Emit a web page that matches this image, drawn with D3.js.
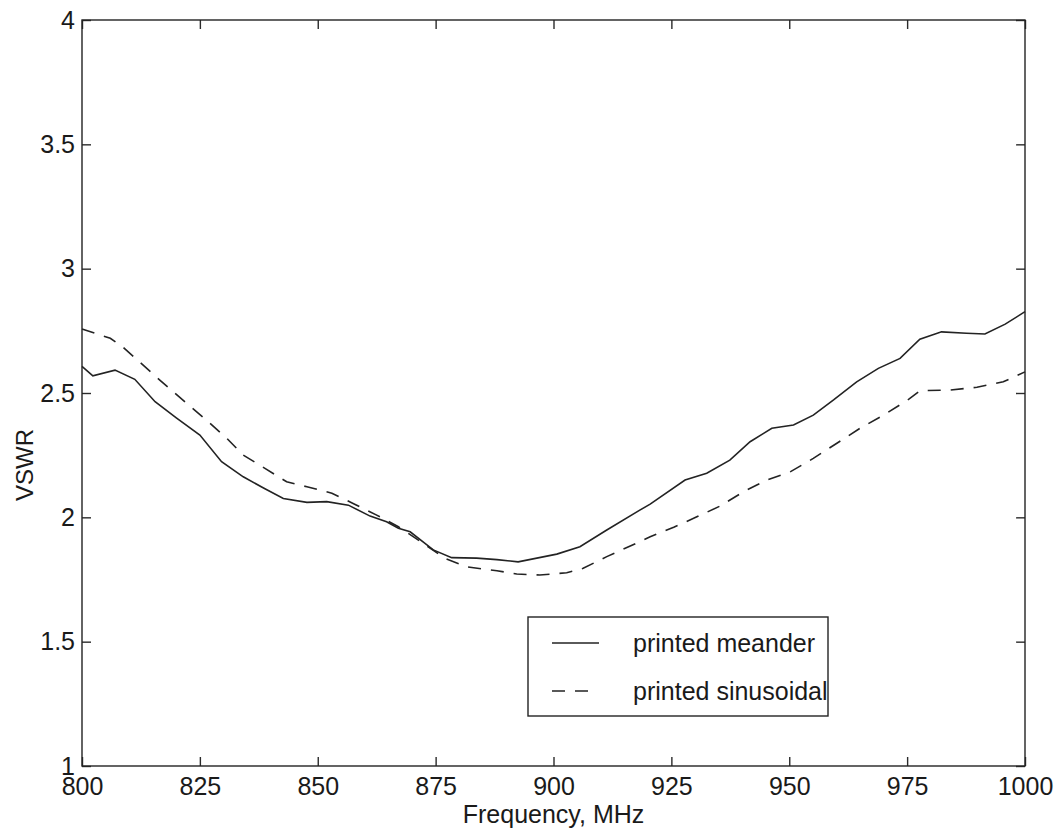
<!DOCTYPE html>
<html>
<head>
<meta charset="utf-8">
<script src="https://cdn.jsdelivr.net/npm/d3@7"></script>
<style>
  body { margin: 0; background: #fff; }
  svg { display: block; font-family: "Liberation Sans", Arial, Helvetica, sans-serif; }
  .axis path { display: none; }
  .axis line { stroke: #2b2b2b; stroke-width: 1.4px; }
  .axis text { fill: #1a1a1a; font-size: 25px; }
</style>
</head>
<body>
<div id="chart"></div>
<script>
  // printed meander (solid)
  var freqMeander = [800, 802.3, 807, 811.2, 815.5, 820, 825, 829.6, 834.2, 838.5, 842.7, 847.7, 851.9, 856.5,
    861.1, 864.6, 867.1, 869.6, 874.5, 878.4, 883.7, 888, 892.5, 900.7, 905.6, 911.3, 918.3, 920.5,
    927.9, 932.5, 937.4, 941.7, 946.3, 950.9, 955.1, 959.4, 964.3, 968.9, 973.5, 977.7, 982.3,
    987.6, 991.5, 995.8, 1000];
  var vswrMeander = [2.607, 2.569, 2.592, 2.555, 2.465, 2.40, 2.331, 2.224, 2.163, 2.118, 2.076, 2.060, 2.063, 2.049,
    2.005, 1.982, 1.956, 1.942, 1.869, 1.838, 1.836, 1.830, 1.821, 1.852, 1.882, 1.949, 2.029, 2.053,
    2.150, 2.177, 2.230, 2.304, 2.358, 2.371, 2.411, 2.472, 2.545, 2.599, 2.639, 2.716, 2.746,
    2.740, 2.737, 2.777, 2.827];

  // printed sinusoidal (dashed)
  var freqSinus = [800, 806, 808.4, 812.5, 816.5, 822.2, 826.4, 830.7, 834.2, 838.8, 843.4, 847.7, 853, 857.5,
    862.5, 867.1, 872, 877, 881.6, 888, 892.2, 897.1, 902.8, 906.3, 911.3, 918.3, 920.5, 925.5,
    930.4, 935.3, 940.3, 945.2, 950.2, 955.1, 960.1, 965, 970, 975.3, 977.7, 984.1, 989.8, 995.4, 1000];
  var vswrSinus = [2.757, 2.720, 2.689, 2.620, 2.552, 2.458, 2.391, 2.318, 2.250, 2.197, 2.143, 2.123, 2.097, 2.056,
    2.009, 1.962, 1.900, 1.835, 1.801, 1.785, 1.772, 1.768, 1.777, 1.795, 1.842, 1.902, 1.922, 1.960,
    2.002, 2.045, 2.103, 2.150, 2.183, 2.237, 2.298, 2.358, 2.411, 2.474, 2.509, 2.512, 2.523, 2.545, 2.585];

  var xTicks = [800, 825, 850, 875, 900, 925, 950, 975, 1000];
  var yTicks = [1, 1.5, 2, 2.5, 3, 3.5, 4];
  var seriesNames = ["printed meander", "printed sinusoidal"];

  var width = 1059, height = 830;
  var plotLeft = 82, plotRight = 1025, plotTop = 20, plotBottom = 766;
  var tickLen = 9;
  var ink = "#232323";
  var dash = "13,10";

  var svg = d3.select("#chart").append("svg")
    .attr("width", width)
    .attr("height", height);

  var x = d3.scaleLinear().domain([800, 1000]).range([plotLeft, plotRight]);
  var y = d3.scaleLinear().domain([1, 4]).range([plotBottom, plotTop]);

  // Axes, ticks pointing inward on all four sides
  svg.append("g")
    .attr("class", "axis")
    .attr("transform", "translate(0," + plotBottom + ")")
    .call(d3.axisBottom(x).tickValues(xTicks).tickSizeInner(-tickLen).tickSizeOuter(0).tickPadding(11)
      .tickFormat(d3.format("d")));

  svg.append("g")
    .attr("class", "axis")
    .attr("transform", "translate(0," + plotTop + ")")
    .call(d3.axisTop(x).tickValues(xTicks).tickSizeInner(-tickLen).tickSizeOuter(0).tickFormat(""));

  svg.append("g")
    .attr("class", "axis")
    .attr("transform", "translate(" + plotLeft + ",0)")
    .call(d3.axisLeft(y).tickValues(yTicks).tickSizeInner(-tickLen).tickSizeOuter(0).tickPadding(7)
      .tickFormat(d3.format("")));

  svg.append("g")
    .attr("class", "axis")
    .attr("transform", "translate(" + plotRight + ",0)")
    .call(d3.axisRight(y).tickValues(yTicks).tickSizeInner(-tickLen).tickSizeOuter(0).tickFormat(""));

  // frame
  svg.append("rect")
    .attr("x", plotLeft)
    .attr("y", plotTop)
    .attr("width", plotRight - plotLeft)
    .attr("height", plotBottom - plotTop)
    .style("fill", "none")
    .style("stroke", ink)
    .style("stroke-width", "1.4px");

  var line = d3.line()
    .x(function (d) { return x(d[0]); })
    .y(function (d) { return y(d[1]); });

  svg.append("path")
    .datum(d3.zip(freqMeander, vswrMeander))
    .attr("d", line)
    .style("fill", "none")
    .style("stroke", ink)
    .style("stroke-width", "1.6px");

  svg.append("path")
    .datum(d3.zip(freqSinus, vswrSinus))
    .attr("d", line)
    .style("fill", "none")
    .style("stroke", ink)
    .style("stroke-width", "1.6px")
    .style("stroke-dasharray", dash);

  // axis labels
  svg.append("text")
    .attr("x", (plotLeft + plotRight) / 2)
    .attr("y", 823)
    .attr("text-anchor", "middle")
    .style("font-size", "25px")
    .style("fill", "#1a1a1a")
    .text("Frequency, MHz");

  svg.append("text")
    .attr("transform", "translate(33,465) rotate(-90)")
    .attr("text-anchor", "middle")
    .style("font-size", "24px")
    .style("fill", "#1a1a1a")
    .text("VSWR");

  // legend
  var legend = svg.append("g").attr("class", "legend");

  legend.append("rect")
    .attr("x", 528)
    .attr("y", 617)
    .attr("width", 300)
    .attr("height", 99)
    .style("fill", "#fff")
    .style("stroke", ink)
    .style("stroke-width", "1.4px");

  var rows = [643, 691];
  seriesNames.forEach(function (name, i) {
    legend.append("line")
      .attr("x1", 552)
      .attr("x2", i === 1 ? 588 : 599)
      .attr("y1", rows[i])
      .attr("y2", rows[i])
      .style("stroke", ink)
      .style("stroke-width", "1.6px")
      .style("stroke-dasharray", i === 1 ? dash : null);

    legend.append("text")
      .attr("x", 633)
      .attr("y", rows[i])
      .attr("dy", "0.35em")
      .style("font-size", "25px")
      .style("fill", "#1a1a1a")
      .text(name);
  });
</script>
</body>
</html>
